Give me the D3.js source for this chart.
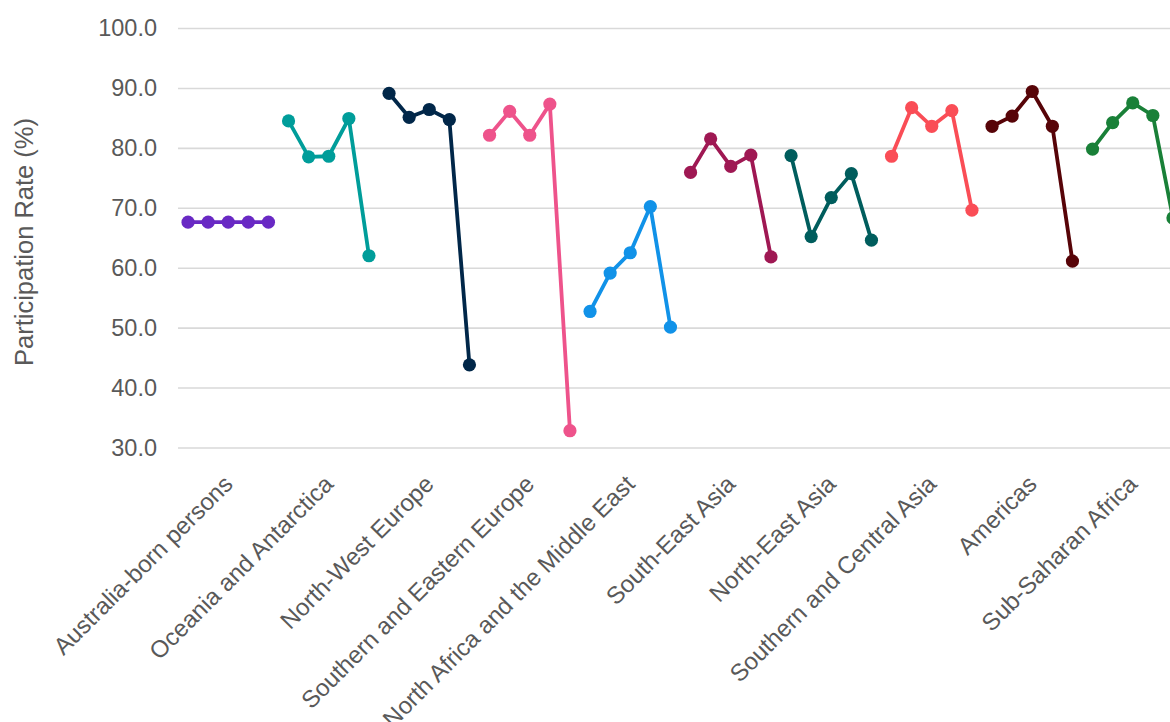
<!DOCTYPE html>
<html>
<head>
<meta charset="utf-8">
<script src="https://cdn.jsdelivr.net/npm/d3@7"></script>
<style>
  html, body { margin: 0; padding: 0; background: #fff; }
  svg { display: block; }
  text { font-family: "Liberation Sans", Arial, sans-serif; fill: #595959; }
</style>
</head>
<body>
<svg id="chart" width="1170" height="722"></svg>
<script>
// ---- Data ----
const categories = [
  "Australia-born persons",
  "Oceania and Antarctica",
  "North-West Europe",
  "Southern and Eastern Europe",
  "North Africa and the Middle East",
  "South-East Asia",
  "North-East Asia",
  "Southern and Central Asia",
  "Americas",
  "Sub-Saharan Africa"
];
const australiaBorn      = [67.6, 67.6, 67.6, 67.6, 67.6];
const oceaniaAntarctica  = [84.5, 78.5, 78.6, 84.9, 62.0];
const northWestEurope    = [89.1, 85.1, 86.4, 84.7, 43.8];
const southEastEurope    = [82.1, 86.1, 82.1, 87.3, 32.8];
const northAfricaME      = [52.7, 59.1, 62.5, 70.2, 50.1];
const southEastAsia      = [75.9, 81.5, 76.9, 78.8, 61.8];
const northEastAsia      = [78.7, 65.2, 71.7, 75.7, 64.6];
const southCentralAsia   = [78.6, 86.7, 83.6, 86.2, 69.6];
const americas           = [83.6, 85.3, 89.4, 83.6, 61.1];
const subSaharanAfrica   = [79.8, 84.2, 87.5, 85.4, 68.3];
const seriesValues = [australiaBorn, oceaniaAntarctica, northWestEurope, southEastEurope,
  northAfricaME, southEastAsia, northEastAsia, southCentralAsia, americas, subSaharanAfrica];
const seriesColors = ["#6929c4", "#009d9a", "#012749", "#ee538b", "#1192e8",
  "#9f1853", "#005d5d", "#fa4d56", "#570408", "#198038"];
const yTicks = [30, 40, 50, 60, 70, 80, 90, 100];
const yTitle = "Participation Rate (%)";

// ---- Layout ----
const svg = d3.select("#chart");
const plotLeft = 178, plotTop = 28, plotBottom = 447.5;
const groupWidth = 100.5;
const plotRight = plotLeft + groupWidth * categories.length;

const y = d3.scaleLinear().domain([30, 100]).range([plotBottom, plotTop]);
const xOuter = d3.scaleBand().domain(categories).range([plotLeft, plotRight]).padding(0);
const xInner = d3.scaleBand().domain(d3.range(5)).range([0, xOuter.bandwidth()]).padding(0);
const px = (cat, i) => xOuter(cat) + xInner(i) + xInner.bandwidth() / 2;

// gridlines + y tick labels
const yAxis = d3.axisLeft(y).tickValues(yTicks).tickFormat(d3.format(".1f"))
  .tickSize(-(plotRight - plotLeft)).tickPadding(21);
const gy = svg.append("g").attr("transform", `translate(${plotLeft},0)`).call(yAxis);
gy.select(".domain").remove();
gy.selectAll(".tick line").attr("stroke", "#d9d9d9").attr("stroke-width", 1.6);
gy.selectAll(".tick text").attr("font-size", 23.5).style("fill", "#595959")
  .attr("font-family", "Liberation Sans, Arial, sans-serif");

// y title
svg.append("text")
  .attr("transform", `translate(33, 242) rotate(-90)`)
  .attr("text-anchor", "middle")
  .attr("font-size", 25.5)
  .text(yTitle);

// x category labels
const xAxis = d3.axisBottom(xOuter).tickSize(0).tickPadding(0);
const gx = svg.append("g").attr("transform", `translate(0,${plotBottom})`).call(xAxis);
gx.select(".domain").remove();
gx.selectAll(".tick text")
  .attr("font-size", 24)
  .attr("font-family", "Liberation Sans, Arial, sans-serif")
  .style("fill", "#595959")
  .attr("text-anchor", "end")
  .attr("dy", 0)
  .attr("y", 0)
  .attr("transform", "translate(6,38) rotate(-45)");

// series lines and markers
const line = d3.line().x(d => d.x).y(d => d.y);
categories.forEach((cat, ci) => {
  const pts = seriesValues[ci].map((v, i) => ({ x: px(cat, i), y: y(v) }));
  const g = svg.append("g");
  g.append("path").datum(pts).attr("d", line)
    .attr("fill", "none").attr("stroke", seriesColors[ci])
    .attr("stroke-width", 3.8).attr("stroke-linejoin", "round");
  g.selectAll("circle").data(pts).join("circle")
    .attr("cx", d => d.x).attr("cy", d => d.y).attr("r", 6.6)
    .attr("fill", seriesColors[ci]);
});
</script>
</body>
</html>
